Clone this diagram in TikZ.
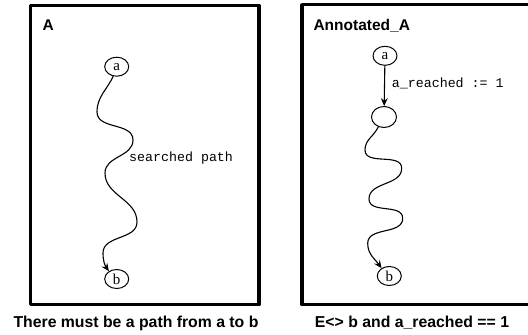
\documentclass[tikz,border=0pt]{standalone}
\usepackage{fontspec}
\setmainfont{Liberation Serif}
\setsansfont{Liberation Sans}
\setmonofont{Liberation Mono}
\usetikzlibrary{shapes.geometric, arrows.meta}
\tikzset{
  st/.style={draw, ellipse, line width=1pt, inner sep=0pt, minimum width=24pt, minimum height=19pt, font=\fontsize{15}{15}\selectfont},
  frame/.style={line width=3.5pt},
  title/.style={anchor=base west, font=\fontsize{15.5}{16}\sffamily\bfseries},
  caption/.style={anchor=base, font=\fontsize{15.8}{16}\sffamily\bfseries},
  lab/.style={anchor=west, inner sep=0pt, font=\fontsize{13.3}{14}\ttfamily},
  trans/.style={-{Stealth[length=8pt, width=7pt, inset=3pt]}, line width=1.1pt}
}
\begin{document}
\begin{tikzpicture}[x=1pt, y=-1pt, line join=round, line cap=round]
  \clip (0,0) rectangle (528,335);
  % left automaton
  \draw[frame] (30.5,5.5) rectangle (259,304.5);
  \node[title] (tA) at (39,30.5) {A};
  \node[st] (a1) at (116.7,66.7) {a};
  \node[st] (b1) at (116.7,279) {b};
  \draw[trans] (a1.250) to[out=245,in=90] (97,112) to[out=-90,in=90] (133,140)
    to[out=-90,in=90] (105,173) to[out=-90,in=90] (137,222) to[out=-90,in=90] (103,253)
    to[out=-90,in=125] (b1.135);
  \node[lab] (sp) at (129,158) {searched path};
  \node[caption] (c1) at (136,327.7) {There must be a path from a to b};
  % annotated automaton
  \draw[frame] (302,4.7) rectangle (545,304.7);
  \node[title] (tB) at (310,30.7) {Annotated\_A};
  \node[st] (a2) at (385,55.8) {a};
  \node[st, minimum width=25pt, minimum height=21pt] (m2) at (384,117) {};
  \node[st] (b2) at (389.3,276) {b};
  \draw[trans] (a2) -- (m2);
  \node[lab] (ar) at (391.7,83.3) {a\_reached := 1};
  \draw[trans] (m2.240) to[out=245,in=90] (365,150) to[out=-90,in=90] (401.7,168.3)
    to[out=-90,in=90] (369,199) to[out=-90,in=90] (402.7,218.3) to[out=-90,in=90] (367.7,243.3)
    to[out=-90,in=125] (b2.135);
  \node[caption] (c2) at (412,327.7) {E<> b and a\_reached == 1};
\end{tikzpicture}
\end{document}
